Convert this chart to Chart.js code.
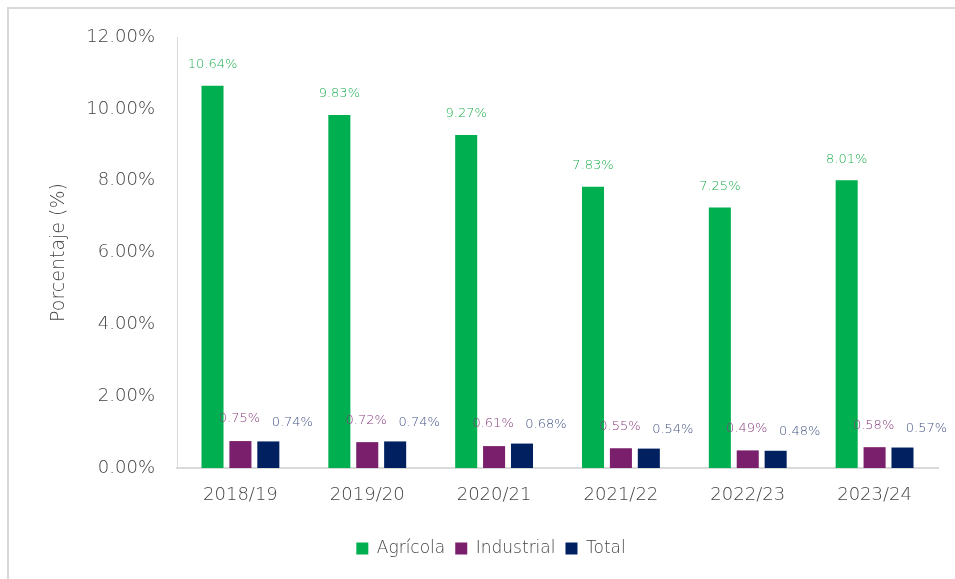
<!DOCTYPE html>
<html>
<head>
    <meta charset="UTF-8">
    <script src="https://cdn.jsdelivr.net/npm/chart.js"></script>
    <style>
        body { margin: 0; background: #fff; }
        #wrap { position: relative; width: 955px; height: 579px; }
        #frame { position: absolute; left: 7px; top: 7px; right: 0; bottom: 0; border-left: 2px solid #d9d9d9; border-top: 2px solid #d9d9d9; pointer-events: none; }
    </style>
</head>
<body>
<div id="wrap">
    <canvas id="waterChart" width="955" height="579"></canvas>
    <div id="frame"></div>
</div>

<script>
    const seasons = ['2018/19', '2019/20', '2020/21', '2021/22', '2022/23', '2023/24'];
    const agricola = [10.64, 9.83, 9.27, 7.83, 7.25, 8.01];
    const industrial = [0.75, 0.72, 0.61, 0.55, 0.49, 0.58];
    const total = [0.74, 0.74, 0.68, 0.54, 0.48, 0.57];

    const fontName = "'DejaVu Sans', sans-serif";
    const textGray = '#444444';

    // value labels above each bar, shifted per series like the original
    const labelPlugin = {
        id: 'valueLabels',
        afterDatasetsDraw(chart) {
            const ctx = chart.ctx;
            const styles = [
                { color: '#1fae4f', dx: 0, dy: -21 },
                { color: '#8a3f7e', dx: -1, dy: -22 },
                { color: '#445486', dx: 24, dy: -19 }
            ];
            ctx.save();
            ctx.font = "300 13px " + fontName;
            ctx.textAlign = 'center';
            ctx.textBaseline = 'middle';
            chart.data.datasets.forEach((ds, i) => {
                chart.getDatasetMeta(i).data.forEach((bar, j) => {
                    ctx.fillStyle = styles[i].color;
                    ctx.fillText(ds.data[j].toFixed(2) + '%', bar.x + styles[i].dx, bar.y + styles[i].dy);
                });
            });
            ctx.restore();
        }
    };

    new Chart(document.getElementById('waterChart'), {
        type: 'bar',
        data: {
            labels: seasons,
            datasets: [
                { label: 'Agrícola', data: agricola, backgroundColor: '#00b050' },
                { label: 'Industrial', data: industrial, backgroundColor: '#7a1f6b' },
                { label: 'Total', data: total, backgroundColor: '#002060' }
            ]
        },
        options: {
            responsive: false,
            animation: false,
            categoryPercentage: 0.66,
            barPercentage: 0.79,
            layout: { padding: { left: 44, top: 37, right: 17, bottom: 12 } },
            plugins: {
                tooltip: { enabled: false },
                legend: {
                    position: 'bottom',
                    labels: {
                        boxWidth: 12,
                        boxHeight: 12,
                        padding: 10,
                        color: textGray,
                        font: { family: fontName, size: 17, weight: 300 }
                    }
                }
            },
            scales: {
                x: {
                    grid: { display: false },
                    border: { color: '#d9d9d9', width: 2 },
                    ticks: { color: textGray, padding: 9, font: { family: fontName, size: 18, weight: 300 } },
                    afterFit(scale) { scale.height = 62; }
                },
                y: {
                    min: 0,
                    max: 12,
                    grid: { display: false },
                    border: { color: '#d9d9d9', width: 1 },
                    ticks: {
                        stepSize: 2,
                        padding: 14,
                        color: textGray,
                        font: { family: fontName, size: 18, weight: 300 },
                        callback: v => v.toFixed(2) + '%'
                    },
                    title: {
                        display: true,
                        text: 'Porcentaje (%)',
                        color: textGray,
                        font: { family: fontName, size: 19, weight: 300 }
                    },
                    afterFit(scale) { scale.width = 133; }
                }
            }
        },
        plugins: [labelPlugin]
    });
</script>
</body>
</html>
